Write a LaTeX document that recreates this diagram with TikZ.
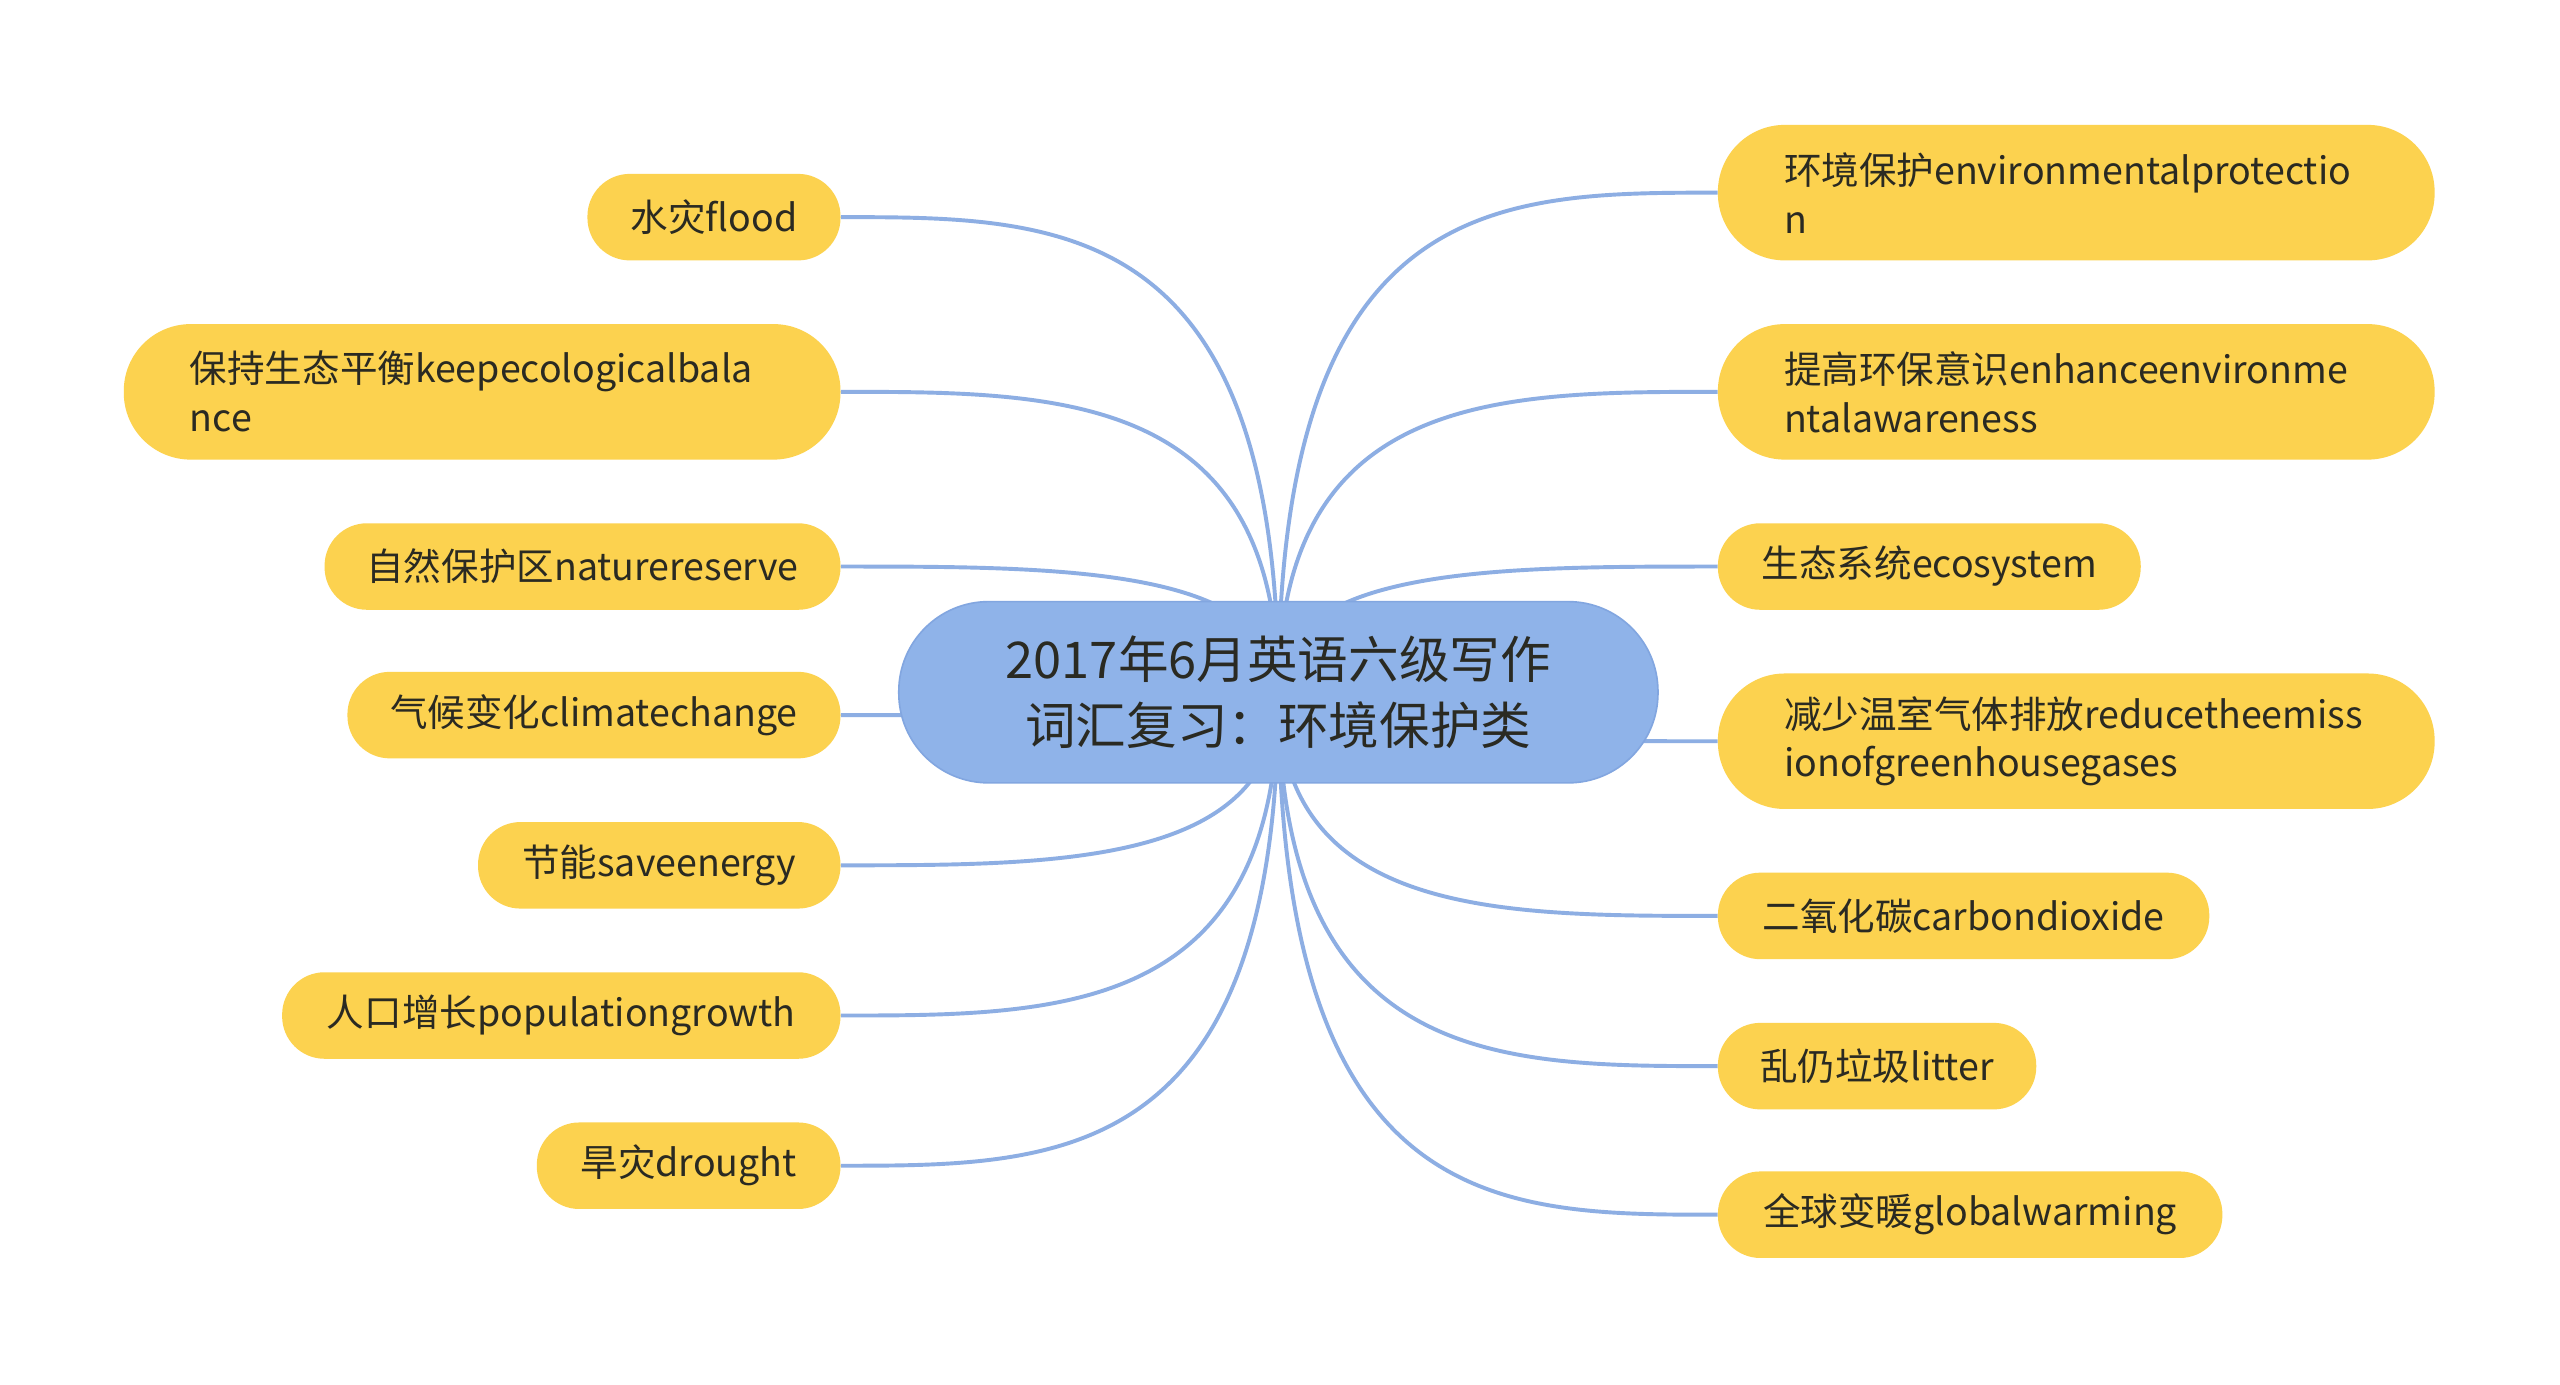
\documentclass[tikz,border=0pt]{standalone}
\usepackage{fontspec}
\setmainfont{Noto Sans CJK SC}
\usepackage{tikz}
\usetikzlibrary{backgrounds, calc, positioning}

\definecolor{rootblue}{HTML}{8FB3E9}
\definecolor{rootedge}{HTML}{82A6E0}
\definecolor{leafyellow}{HTML}{FCD24F}
\definecolor{linkblue}{HTML}{8DAEE3}
\definecolor{inktext}{HTML}{2A2A22}

\tikzset{
  root/.style={rectangle, rounded corners=55pt, fill=rootblue, draw=rootedge, line width=1pt,
    minimum width=465pt, minimum height=111pt, align=center, text=inktext,
    font=\fontsize{31}{40}\selectfont},
  leaf/.style={rectangle, rounded corners=26pt, fill=leafyellow, minimum height=53pt,
    inner xsep=0pt, text=inktext, font=\fontsize{23}{30}\selectfont},
  leaftwo/.style={leaf, rounded corners=41pt, minimum height=83pt, minimum width=439pt,
    text width=358pt, align=left},
  link/.style={draw=linkblue, line width=2.4pt}
}

\begin{document}
\begin{tikzpicture}[x=1pt, y=-1pt]
      \useasboundingbox (0,0) rectangle (1568,848);
      \node[root] (root) at (783,424) {2017年6月英语六级写作\\词汇复习：环境保护类};
      % left side
      \node[leaf, minimum width=155, anchor=east] (flood) at (515,133) {水灾flood};
      \node[leaftwo, anchor=east] (balance) at (515,240) {保持生态平衡keepecologicalbala\\nce};
      \node[leaf, minimum width=316, anchor=east] (reserve) at (515,347) {自然保护区naturereserve};
      \node[leaf, minimum width=302, anchor=east] (climate) at (515,438) {气候变化climatechange};
      \node[leaf, minimum width=222, anchor=east] (energy) at (515,530) {节能saveenergy};
      \node[leaf, minimum width=342, anchor=east] (population) at (515,622) {人口增长populationgrowth};
      \node[leaf, minimum width=186, anchor=east] (drought) at (515,714) {旱灾drought};
      % right side
      \node[leaftwo, anchor=west] (protection) at (1052,118) {环境保护environmentalprotectio\\n};
      \node[leaftwo, anchor=west] (awareness) at (1052,240) {提高环保意识enhanceenvironme\\ntalawareness};
      \node[leaf, minimum width=259, anchor=west] (ecosystem) at (1052,347) {生态系统ecosystem};
      \node[leaftwo, anchor=west] (emission) at (1052,454) {减少温室气体排放reducetheemiss\\ionofgreenhousegases};
      \node[leaf, minimum width=301, anchor=west] (carbon) at (1052,561) {二氧化碳carbondioxide};
      \node[leaf, minimum width=195, anchor=west] (litter) at (1052,653) {乱仍垃圾litter};
      \node[leaf, minimum width=309, anchor=west] (warming) at (1052,744) {全球变暖globalwarming};
      \begin{pgfonlayer}{background}
        \fill[white] (0,0) rectangle (1568,848);
        \foreach \n in {flood,balance,reserve,climate,energy,population,drought}
          \draw[link] (root.center) .. controls (root.center |- \n.east)
            and ($(root.center |- \n.east)!0.5!(\n.east)$) .. (\n.east);
        \foreach \n in {protection,awareness,ecosystem,emission,carbon,litter,warming}
          \draw[link] (root.center) .. controls (root.center |- \n.west)
            and ($(root.center |- \n.west)!0.5!(\n.west)$) .. (\n.west);
      \end{pgfonlayer}
    \end{tikzpicture}
\end{document}
